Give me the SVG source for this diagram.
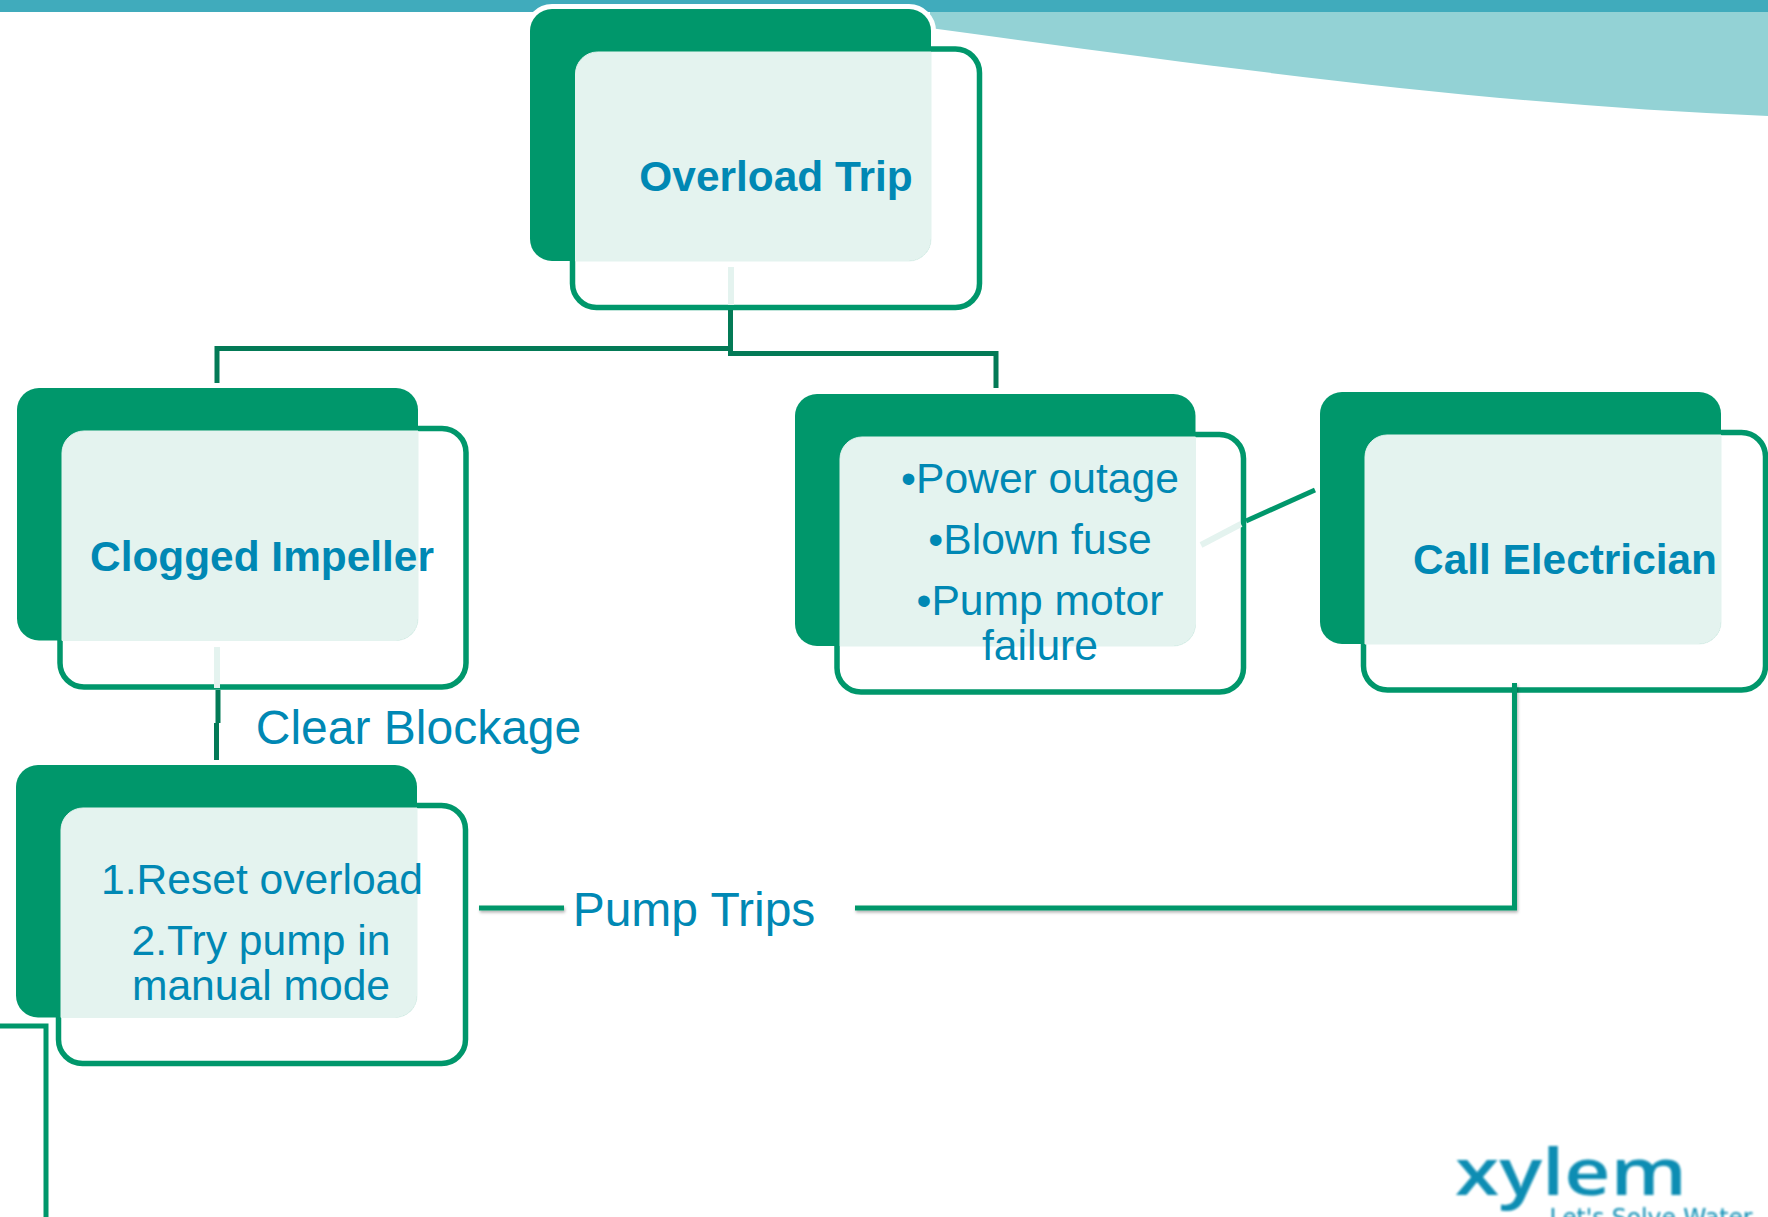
<svg xmlns="http://www.w3.org/2000/svg" width="1768" height="1217" viewBox="0 0 1768 1217">
<defs>
<filter id="sh" x="-5%" y="-5%" width="110%" height="110%" filterUnits="userSpaceOnUse"><feDropShadow dx="1" dy="2" stdDeviation="1.5" flood-color="#000" flood-opacity="0.3"/></filter>
<filter id="blur"><feGaussianBlur stdDeviation="0.9"/></filter>
</defs>
<style>
.g{fill:#00976b}
.l{fill:#e4f3ef;stroke:#e4f3ef;stroke-width:1}
.o{fill:#fff;stroke:#00976b;stroke-width:5.5}
text{font-family:"Liberation Sans",Arial,sans-serif;fill:#0088b4;text-anchor:middle}
.b{font-weight:bold;font-size:42.400px}
.m{font-size:42.600px}
.t{font-size:48px}
.c{fill:none;stroke:#00976b;stroke-width:5}
.d{fill:none;stroke:#037a56;stroke-width:5}
.f{fill:none;stroke:#e4f3ef;stroke-width:6}
</style>
<rect id="band" x="0" y="0" width="1768" height="12" fill="#40abbc"/>
<path id="swoosh" d="M930 12H1768V116C1500 105 1250 72 930 28Z" fill="#93d2d5"/>
<g id="node-overload">
<rect x="530" y="9" width="401" height="252" rx="22" fill="#fff" stroke="#fff" stroke-width="10"/>
<rect class="o" x="572.500" y="49" width="407" height="258.500" rx="24"/>
<rect class="g" x="530" y="9" width="401" height="252" rx="22"/>
<path class="l" d="M597.500 52H931V239A22 22 0 0 1 909 261H575.500V74A22 22 0 0 1 597.500 52Z"/>
<text class="b" x="776" y="191">Overload Trip</text>
</g>
<g id="node-clogged">
<rect class="o" x="60" y="428.500" width="406" height="258.500" rx="24"/>
<rect class="g" x="17" y="388" width="401" height="252.500" rx="22"/>
<path class="l" d="M84 431H418V618.500A22 22 0 0 1 396 640.500H62V453A22 22 0 0 1 84 431Z"/>
<text class="b" x="262" y="571">Clogged Impeller</text>
</g>
<g id="node-steps">
<rect class="o" x="58.500" y="805.500" width="407" height="258" rx="24"/>
<rect class="g" x="16" y="765" width="401" height="252.500" rx="22"/>
<path class="l" d="M83 808H417V995.500A22 22 0 0 1 395 1017.500H61V830A22 22 0 0 1 83 808Z"/>
<text class="m" x="262" y="894">1.Reset overload</text>
<text class="m" x="261" y="955">2.Try pump in</text>
<text class="m" x="261" y="1000">manual mode</text>
</g>
<g id="node-causes">
<rect class="o" x="837" y="434.500" width="406.500" height="257.500" rx="24"/>
<rect class="g" x="795" y="394" width="400.500" height="252" rx="22"/>
<path class="l" d="M862 437H1195.500V624A22 22 0 0 1 1173.500 646H840V459A22 22 0 0 1 862 437Z"/>
<text class="m" x="1040" y="493">•Power outage</text>
<text class="m" x="1040" y="554">•Blown fuse</text>
<text class="m" x="1040" y="615">•Pump motor</text>
<text class="m" x="1040" y="660">failure</text>
</g>
<g id="node-electrician">
<rect class="o" x="1363.500" y="432.500" width="402" height="257.500" rx="24"/>
<rect class="g" x="1320" y="392" width="401" height="252" rx="22"/>
<path class="l" d="M1387 435H1721V622A22 22 0 0 1 1699 644H1365V457A22 22 0 0 1 1387 435Z"/>
<text class="b" x="1565" y="574">Call Electrician</text>
</g>
<g id="connectors">
<path class="f" d="M731 267V305"/>
<path class="d" d="M730.500 310V348.500H217V383"/>
<path class="d" d="M730.500 348V353.500H996V388"/>
<path class="f" d="M217 647V688"/>
<path class="d" d="M218 690V723"/>
<path class="d" d="M216.500 723V760"/>
<path class="f" d="M1201 545L1241 524"/>
<path class="c" d="M1246 521L1315 490"/>
<path class="c" filter="url(#sh)" d="M479 908H564"/>
<path class="c" filter="url(#sh)" d="M855 908H1514.500V683"/>
<path class="c" d="M0 1026H46V1217"/>
</g>
<text class="t" x="418.500" y="744">Clear Blockage</text>
<text class="t" x="694" y="926">Pump Trips</text>
<g id="logo" filter="url(#blur)">
<text x="1571" y="1195" style="font-family:'Open Sans',sans-serif;font-weight:600;font-size:66px;fill:#0a8db3" textLength="232" lengthAdjust="spacingAndGlyphs">xylem</text>
<text x="1651" y="1226" style="font-family:'DejaVu Sans',sans-serif;font-size:24px;fill:#0a8db3" textLength="203" lengthAdjust="spacingAndGlyphs">Let's Solve Water</text>
</g>
</svg>
